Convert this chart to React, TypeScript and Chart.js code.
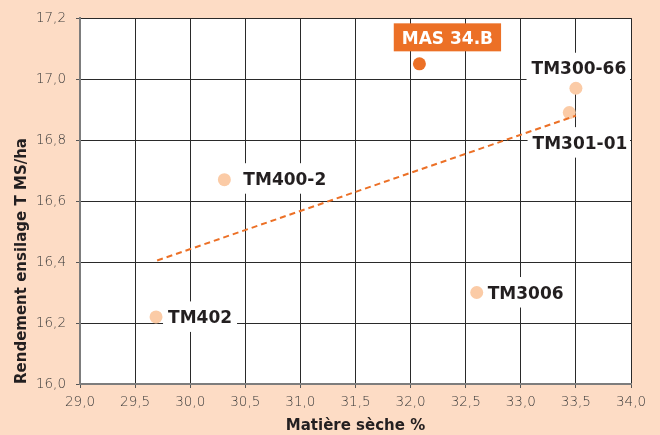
import React, { useEffect, useRef } from "react";
import { Chart, registerables } from "chart.js";

Chart.register(...registerables);

const varieties = ["MAS 34.B", "TM300-66", "TM301-01", "TM400-2", "TM402", "TM3006"];
const drySurface = [32.08, 33.5, 33.44, 30.31, 29.69, 32.6];
const yieldValues = [17.05, 16.97, 16.89, 16.67, 16.22, 16.3];
const trendX = [29.7, 33.5];
const trendY = [16.405, 16.88];
const xTicks = [29.0, 29.5, 30.0, 30.5, 31.0, 31.5, 32.0, 32.5, 33.0, 33.5, 34.0];
const yTicks = [16.0, 16.2, 16.4, 16.6, 16.8, 17.0, 17.2];

const BG = "#FDDCC5";
const ORANGE = "#EC7026";
const PEACH = "#FBCBA6";
const BOLD = "bold 17px 'DejaVu Sans'";

// label placement: [dx, dy (baseline), align, highlighted]
const labelPlacement: [number, number, CanvasTextAlign, boolean][] = [
  [28, -20, "center", true],
  [3, -14, "center", false],
  [58, 36, "right", false],
  [19, 5, "left", false],
  [12, 6, "left", false],
  [11, 6, "left", false],
];

const labelPlugin = {
  id: "pointLabels",
  beforeDatasetsDraw(chart: any) {
    const { ctx, scales, chartArea } = chart;
    ctx.font = BOLD;
    varieties.forEach((name, i) => {
      const [dx, dy, align, hi] = labelPlacement[i];
      const px = scales.x.getPixelForValue(drySurface[i]);
      const py = scales.y.getPixelForValue(yieldValues[i]);
      const w = ctx.measureText(name).width;
      const tx = px + dx;
      const ty = py + dy;
      const left = align === "center" ? tx - w / 2 : align === "right" ? tx - w : tx;
      const capH = 12.5;
      ctx.save();
      if (!hi) {
        ctx.beginPath();
        ctx.rect(chartArea.left, chartArea.top, chartArea.right - chartArea.left - 1, chartArea.bottom - chartArea.top);
        ctx.clip();
      }
      ctx.fillStyle = hi ? ORANGE : "#FFFFFF";
      if (hi) ctx.fillRect(left - 8, ty - capH - 8, w + 16, capH + 15.5);
      else ctx.fillRect(left - 5, ty - capH - 9, w + 10, capH + 18);
      ctx.restore();
      ctx.save();
      ctx.font = BOLD;
      ctx.textBaseline = "alphabetic";
      ctx.textAlign = "left";
      ctx.fillStyle = hi ? "#FFFFFF" : "#231F20";
      ctx.fillText(name, left, ty);
      ctx.restore();
    });
  },
};

const fmt = (v: number) => v.toFixed(1).replace(".", ",");

export default function App() {
  const ref = useRef<HTMLCanvasElement>(null);
  useEffect(() => {
    document.body.style.margin = "0";
    const chart = new Chart(ref.current as HTMLCanvasElement, {
      type: "scatter",
      data: {
        datasets: [
          {
            label: "points",
            data: drySurface.map((x, i) => ({ x, y: yieldValues[i] })),
            pointRadius: 6.5,
            pointHoverRadius: 6.5,
            pointBorderWidth: 0,
            backgroundColor: varieties.map((_, i) => (labelPlacement[i][3] ? ORANGE : PEACH)),
            order: 2,
          },
          {
            label: "trend",
            type: "line",
            data: trendX.map((x, i) => ({ x, y: trendY[i] })),
            borderColor: ORANGE,
            borderWidth: 2,
            borderDash: [6, 4],
            pointRadius: 0,
            fill: false,
            order: 1,
          } as any,
        ],
      },
      options: {
        animation: false,
        responsive: false,
        devicePixelRatio: 1,
        layout: { padding: { top: 17, right: 29, left: 0, bottom: 0 } },
        plugins: { legend: { display: false }, tooltip: { enabled: false } },
        scales: {
          x: {
            type: "linear",
            min: 29,
            max: 34,
            afterBuildTicks: (s: any) => {
              s.ticks = xTicks.map((v) => ({ value: v }));
            },
            afterFit: (s: any) => {
              s.height = 51;
            },
            ticks: {
              callback: (v: any) => fmt(Number(v)),
              font: { family: "'DejaVu Sans'", size: 13.5, weight: "300" as any },
              color: "#3a3a3a",
              padding: 6,
              maxRotation: 0,
            },
            grid: { color: "#2a2a2a", lineWidth: 1, tickLength: 4, tickColor: "#555" },
            border: { color: "#7d7d7d", width: 2 },
            title: {
              display: true,
              text: "Matière sèche %",
              font: { family: "'DejaVu Sans'", size: 15, weight: "bold" },
              color: "#231F20",
              padding: { top: 0, bottom: 0 },
            },
          },
          y: {
            type: "linear",
            min: 16,
            max: 17.2,
            afterBuildTicks: (s: any) => {
              s.ticks = yTicks.map((v) => ({ value: v }));
            },
            afterFit: (s: any) => {
              s.width = 80;
            },
            ticks: {
              callback: (v: any) => fmt(Number(v)),
              font: { family: "'DejaVu Sans'", size: 13.5, weight: "300" as any },
              color: "#3a3a3a",
              padding: 10,
            },
            grid: { color: "#2a2a2a", lineWidth: 1, tickLength: 4, tickColor: "#555" },
            border: { color: "#7d7d7d", width: 2 },
            title: {
              display: true,
              text: "Rendement ensilage T MS/ha",
              align: "start",
              font: { family: "'DejaVu Sans'", size: 15, weight: "bold" },
              color: "#231F20",
              padding: { top: 13, bottom: 0 },
            },
          },
        },
      },
      plugins: [
        {
          id: "bgArea",
          beforeDraw(c: any) {
            const { ctx, chartArea } = c;
            ctx.save();
            ctx.fillStyle = "#FFFFFF";
            ctx.fillRect(chartArea.left, chartArea.top, chartArea.right - chartArea.left, chartArea.bottom - chartArea.top);
            ctx.restore();
          },
        },
        labelPlugin,
      ],
    });
    return () => chart.destroy();
  }, []);
  return (
    <div style={{ width: 660, height: 435, background: BG }}>
      <canvas ref={ref} width={660} height={435} style={{ display: "block" }} />
    </div>
  );
}
